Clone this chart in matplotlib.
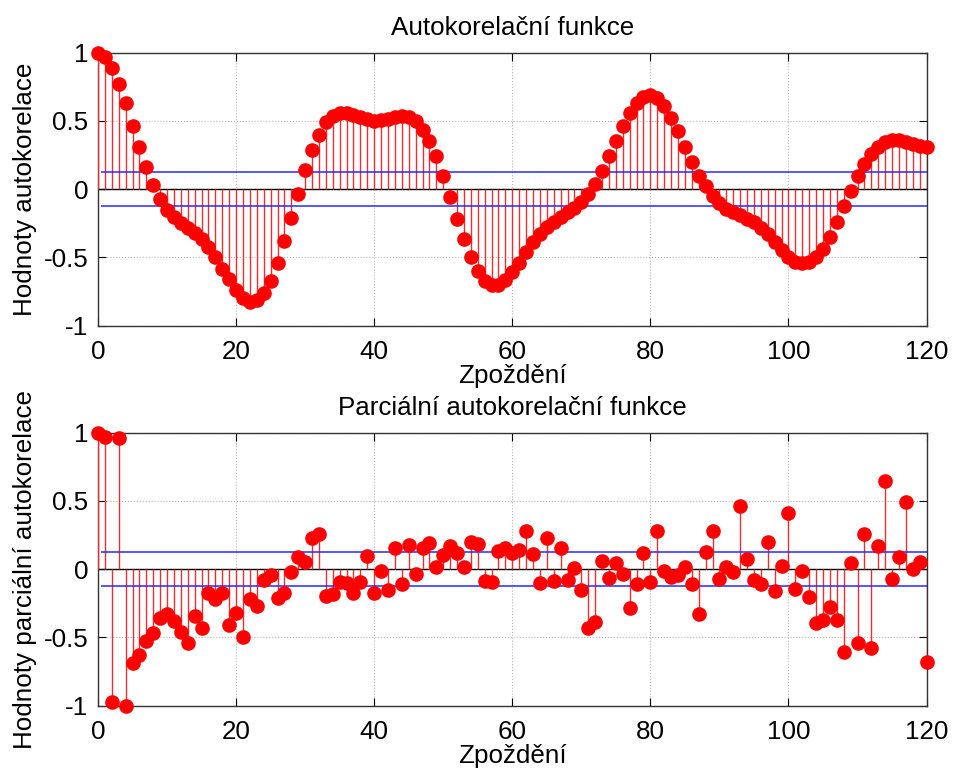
import numpy as np
import matplotlib.pyplot as plt

plt.rcParams['font.family'] = ['Liberation Sans', 'DejaVu Sans']

# lags 0..120
lags = np.arange(0, 121)

# autocorrelation values
acf = [1.0, 0.968, 0.888, 0.773, 0.628, 0.465, 0.308, 0.161, 0.032, -0.073,
       -0.152, -0.205, -0.249, -0.286, -0.323, -0.367, -0.425, -0.499, -0.582, -0.660,
       -0.738, -0.800, -0.824, -0.812, -0.763, -0.670, -0.538, -0.379, -0.208, -0.034,
       0.137, 0.289, 0.399, 0.489, 0.538, 0.557, 0.557, 0.545, 0.528, 0.513,
       0.501, 0.509, 0.516, 0.526, 0.533, 0.526, 0.496, 0.435, 0.352, 0.240,
       0.098, -0.054, -0.215, -0.364, -0.499, -0.597, -0.670, -0.704, -0.702, -0.665,
       -0.609, -0.538, -0.460, -0.386, -0.328, -0.279, -0.237, -0.205, -0.171, -0.139,
       -0.095, -0.034, 0.039, 0.134, 0.240, 0.355, 0.460, 0.557, 0.631, 0.675,
       0.692, 0.668, 0.606, 0.521, 0.423, 0.308, 0.200, 0.100, 0.020, -0.049,
       -0.103, -0.144, -0.171, -0.193, -0.218, -0.244, -0.281, -0.328, -0.384, -0.445,
       -0.494, -0.531, -0.543, -0.531, -0.499, -0.435, -0.347, -0.242, -0.127, -0.017,
       0.093, 0.186, 0.259, 0.308, 0.342, 0.357, 0.357, 0.345, 0.330, 0.318,
       0.308]

# partial autocorrelation values
pacf = [1.0, 0.971, -0.973, 0.958, -1.0, -0.687, -0.631, -0.526, -0.465, -0.355,
        -0.325, -0.381, -0.460, -0.538, -0.345, -0.428, -0.174, -0.215, -0.174, -0.411,
        -0.320, -0.496, -0.220, -0.271, -0.076, -0.044, -0.210, -0.178, -0.024, 0.090,
        0.054, 0.225, 0.254, -0.196, -0.183, -0.093, -0.105, -0.174, -0.093, 0.095,
        -0.178, -0.015, -0.149, 0.152, -0.112, 0.176, -0.039, 0.152, 0.188, 0.017,
        0.103, 0.169, 0.122, 0.017, 0.200, 0.183, -0.090, -0.093, 0.134, 0.152,
        0.122, 0.139, 0.281, 0.110, -0.100, 0.230, -0.090, 0.152, -0.081, 0.012,
        -0.154, -0.428, -0.384, 0.061, -0.068, 0.042, -0.032, -0.281, -0.110, 0.115,
        -0.095, 0.279, -0.015, -0.056, -0.044, 0.017, -0.110, -0.330, 0.125, 0.281,
        -0.073, 0.017, -0.020, 0.465, 0.078, -0.081, -0.112, 0.198, -0.161, 0.024,
        0.408, -0.147, -0.012, -0.203, -0.391, -0.374, -0.276, -0.369, -0.606, 0.042,
        -0.538, 0.257, -0.577, 0.171, 0.645, -0.071, 0.090, 0.489, -0.002, 0.049,
        -0.680]

conf = 0.126  # confidence bound

fs = 18.7


def stemPanel(ax, vals, title, ylabel):
    ax.grid(True, color='#b8b8b8', linestyle=':', linewidth=0.8)
    ax.set_axisbelow(True)
    ax.axhline(0, color='k', linewidth=1.0, zorder=2)
    ax.vlines(lags, 0, vals, color='#e83030', linewidth=1.0, zorder=3)
    ax.plot(lags, vals, 'o', color='#ff0000', markersize=9.5, zorder=5, clip_on=False)
    ax.hlines([conf, -conf], 0.5, lags[-1], color='#2828ff', linewidth=1.1, zorder=4)
    ax.set_xlim(0, 120)
    ax.set_ylim(-1, 1)
    ax.set_xticks(np.arange(0, 121, 20))
    ax.set_yticks([-1, -0.5, 0, 0.5, 1])
    ax.set_yticklabels(['-1', '-0.5', '0', '0.5', '1'])
    ax.tick_params(direction='in', length=6, width=0.8, top=True, right=True,
                   labelsize=fs, pad=7)
    ax.tick_params(axis='x', pad=10)
    for s in ax.spines.values():
        s.set_linewidth(1.0)
        s.set_color('#333333')
    ax.set_title(title, fontsize=fs, pad=13)
    ax.set_xlabel('Zpoždění', fontsize=fs, labelpad=0)
    ax.set_ylabel(ylabel, fontsize=fs, labelpad=5)


fig = plt.figure(figsize=(9.56, 7.73), dpi=100)
ax1 = fig.add_axes([0.1025, 0.5787, 0.8667, 0.3532])
ax2 = fig.add_axes([0.1025, 0.0871, 0.8667, 0.3532])

stemPanel(ax1, acf, 'Autokorelační funkce', 'Hodnoty autokorelace')
stemPanel(ax2, pacf, 'Parciální autokorelační funkce', 'Hodnoty parciální autokorelace')

fig.savefig('out.png', dpi=100)
